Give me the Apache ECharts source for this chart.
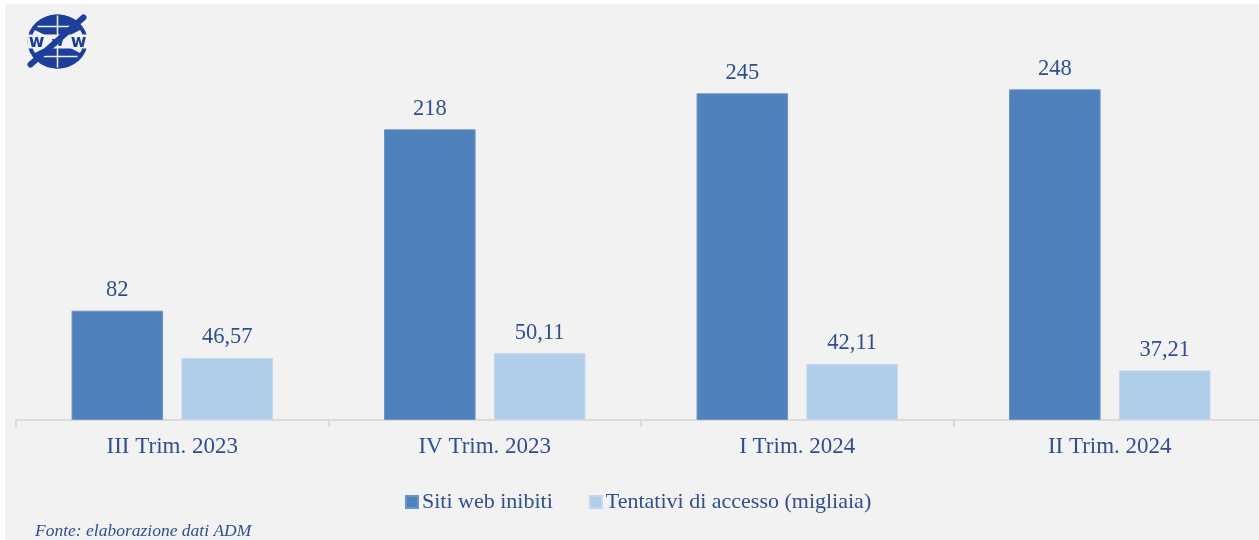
<!DOCTYPE html>
<html>
<head>
<meta charset="utf-8">
<script src="https://cdn.jsdelivr.net/npm/echarts@6/dist/echarts.min.js"></script>
<style>
  html, body { margin: 0; padding: 0; background: #ffffff; overflow: hidden; }
  #chart { width: 1266px; height: 540px; }
</style>
</head>
<body>
<div id="chart"></div>
<script>
// Quarters on the category axis
const categories = ['III Trim. 2023', 'IV Trim. 2023', 'I Trim. 2024', 'II Trim. 2024'];
// Blocked websites per quarter
const sitiWebInibiti = [82, 218, 245, 248];
// Access attempts, thousands
const tentativiAccesso = [46.57, 50.11, 42.11, 37.21];
const seriesNames = ['Siti web inibiti', 'Tentativi di accesso (migliaia)'];
const sourceNote = 'Fonte: elaborazione dati ADM';

const TEXT = '#2f4f8f';
const SERIF = '"Liberation Serif", "DejaVu Serif", serif';
const LOGO = '#1c3f9c';
const BG = '#f2f2f2';

const chart = echarts.init(document.getElementById('chart'), null, { renderer: 'canvas' });

const fmtIt = v => String(v).replace('.', ',');

chart.setOption({
  backgroundColor: '#ffffff',
  animation: false,
  textStyle: { fontFamily: SERIF },
  graphic: [
    // panel background
    { type: 'rect', z: -10, silent: true, shape: { x: 5, y: 4, width: 1261, height: 536 }, style: { fill: BG } },
    // globe logo
    { type: 'group', left: 27, top: 13, z: 10, children: [
      { type: 'ellipse', shape: { cx: 30, cy: 27, rx: 28, ry: 25 }, style: { fill: 'none', stroke: LOGO, lineWidth: 4 } },
      { type: 'sector', shape: { cx: 30, cy: 27, r: 27, startAngle: Math.PI * 1.15, endAngle: Math.PI * 1.85 }, style: { fill: LOGO } },
      { type: 'sector', shape: { cx: 30, cy: 27, r: 27, startAngle: Math.PI * 0.15, endAngle: Math.PI * 0.85 }, style: { fill: LOGO } },
      { type: 'line', shape: { x1: 10, y1: 12, x2: 50, y2: 12 }, style: { stroke: BG, lineWidth: 1.5 } },
      { type: 'line', shape: { x1: 10, y1: 42, x2: 50, y2: 42 }, style: { stroke: BG, lineWidth: 1.5 } },
      { type: 'line', shape: { x1: 30, y1: 1, x2: 30, y2: 53 }, style: { stroke: BG, lineWidth: 1.5 } },
      { type: 'rect', shape: { x: 0, y: 20, width: 62, height: 14 }, style: { fill: BG } },
      { type: 'text', style: { x: 9, y: 28, text: 'w', fill: LOGO, font: 'bold 17px "DejaVu Sans", sans-serif', align: 'center', verticalAlign: 'middle' } },
      { type: 'text', style: { x: 30, y: 28, text: 'w', fill: LOGO, font: 'bold 13px "DejaVu Sans", sans-serif', align: 'center', verticalAlign: 'middle' } },
      { type: 'text', style: { x: 51, y: 28, text: 'w', fill: LOGO, font: 'bold 17px "DejaVu Sans", sans-serif', align: 'center', verticalAlign: 'middle' } },
      { type: 'line', shape: { x1: 3, y1: 50, x2: 56, y2: 3 }, style: { stroke: LOGO, lineWidth: 6, lineCap: 'round' } }
    ]},
    // source note
    { type: 'text', left: 35, top: 522, style: { text: sourceNote, fill: TEXT, font: 'italic 17.5px ' + SERIF } }
  ],
  legend: {
    data: seriesNames,
    left: 400,
    top: 486,
    itemWidth: 12,
    itemHeight: 12,
    itemGap: 36,
    icon: 'rect',
    textStyle: { color: TEXT, fontSize: 22, fontFamily: SERIF, padding: [0, 0, 0, -1] }
  },
  grid: { left: 16, right: 0, top: 20, bottom: 120, containLabel: false },
  xAxis: {
    type: 'category',
    data: categories,
    axisLine: { lineStyle: { color: '#d4d4d4', width: 1.5 } },
    axisTick: { show: true, length: 7, lineStyle: { color: '#d4d4d4', width: 1.5 } },
    axisLabel: { color: TEXT, fontSize: 23, fontFamily: SERIF, margin: 15 }
  },
  yAxis: {
    type: 'value',
    min: 0,
    max: 300,
    show: false,
    splitLine: { show: false }
  },
  series: [
    {
      name: seriesNames[0],
      type: 'bar',
      data: sitiWebInibiti,
      barWidth: '29.3%',
      barGap: '20%',
      itemStyle: { color: '#4f81bd', borderColor: '#6a95c9', borderWidth: 1 },
      label: { show: true, position: 'top', distance: 9, color: TEXT, fontSize: 22.5, fontFamily: SERIF, formatter: p => fmtIt(p.value) }
    },
    {
      name: seriesNames[1],
      type: 'bar',
      data: tentativiAccesso,
      barWidth: '29.3%',
      itemStyle: { color: '#b0cde9', borderColor: '#c2d8ee', borderWidth: 1 },
      label: { show: true, position: 'top', distance: 9, color: TEXT, fontSize: 22.5, fontFamily: SERIF, formatter: p => fmtIt(p.value) }
    }
  ]
});
</script>
</body>
</html>
